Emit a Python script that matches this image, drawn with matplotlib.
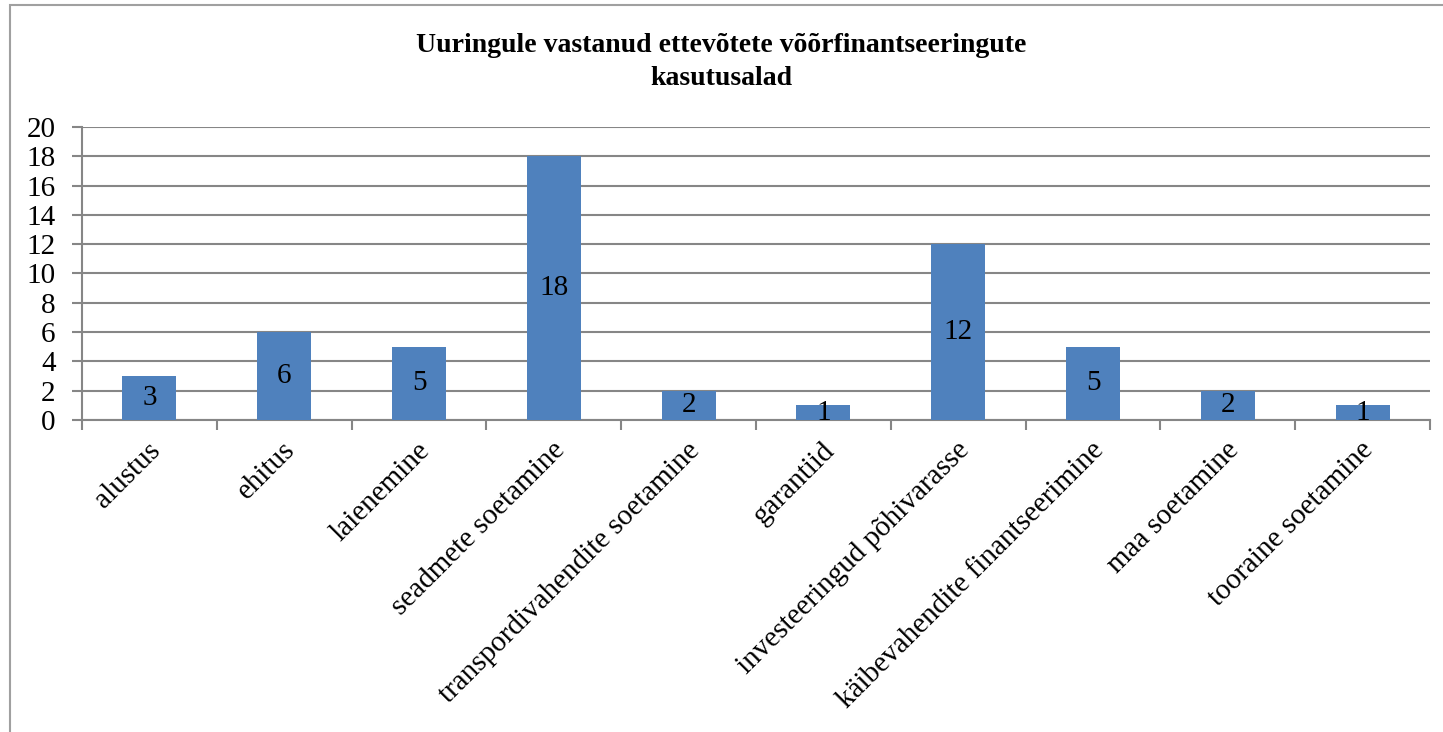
import matplotlib
matplotlib.use("Agg")
import matplotlib.pyplot as plt
from matplotlib.patches import Rectangle
import numpy as np

# --- Chart data ---
categories = [
    "alustus", "ehitus", "laienemine", "seadmete soetamine",
    "transpordivahendite soetamine", "garantiid", "investeeringud põhivarasse",
    "käibevahendite finantseerimine", "maa soetamine", "tooraine soetamine",
]
counts = [3, 6, 5, 18, 2, 1, 12, 5, 2, 1]
y_ticks = list(range(0, 21, 2))
title = "Uuringule vastanud ettevõtete võõrfinantseeringute\nkasutusalad"

BAR_COLOR = "#4F81BD"
GRID_COLOR = "#868686"

plt.rcParams["font.family"] = ["Liberation Serif", "DejaVu Serif"]

W, H = 1443, 732
fig = plt.figure(figsize=(W / 100, H / 100), dpi=100)

# outer frame (chart area border)
fig.patches.append(Rectangle((10 / W, -0.05), 1.2, 1 - 5 / H + 0.05,
                             transform=fig.transFigure, fill=False,
                             edgecolor="#A0A0A0", linewidth=1.5))

ax = fig.add_axes([82 / W, 1 - 420 / H, (1430 - 82) / W, (420 - 127) / H])

x = np.arange(len(categories))
ax.bar(x, counts, width=0.4, color=BAR_COLOR, zorder=3)

# value labels centred in the bars
for xi, v in zip(x, counts):
    ax.text(xi, v / 2, str(v), ha="center", va="center", fontsize=21, zorder=4)

ax.set_xlim(-0.5, len(categories) - 0.5)
ax.set_ylim(0, 20)
ax.set_yticks(y_ticks)
ax.set_yticklabels([str(t) for t in y_ticks], fontsize=21)
ax.yaxis.grid(True, color=GRID_COLOR, linewidth=1.5, zorder=0)
ax.set_axisbelow(True)

# category boundary ticks on x axis
ax.set_xticks(np.arange(-0.5, len(categories), 1.0))
ax.set_xticklabels([])
ax.tick_params(axis="x", direction="out", length=7, color=GRID_COLOR, width=1.5)
ax.tick_params(axis="y", direction="out", length=7, color=GRID_COLOR, width=1.5, pad=12)

for side in ("top", "right"):
    ax.spines[side].set_visible(False)
for side in ("left", "bottom"):
    ax.spines[side].set_color(GRID_COLOR)
    ax.spines[side].set_linewidth(1.5)

# rotated category labels
for xi, lab in zip(x, categories):
    ax.annotate(lab, xy=(xi, 0), xycoords=("data", "axes fraction"),
                xytext=(5, -19), textcoords="offset points",
                rotation=45, rotation_mode="anchor", ha="right", va="center",
                fontsize=21)

fig.text(0.5, 1 - 62 / H, title, ha="center", va="center",
         fontsize=20, fontweight="bold", linespacing=1.4)

fig.savefig("out.png", dpi=100, facecolor="white")
